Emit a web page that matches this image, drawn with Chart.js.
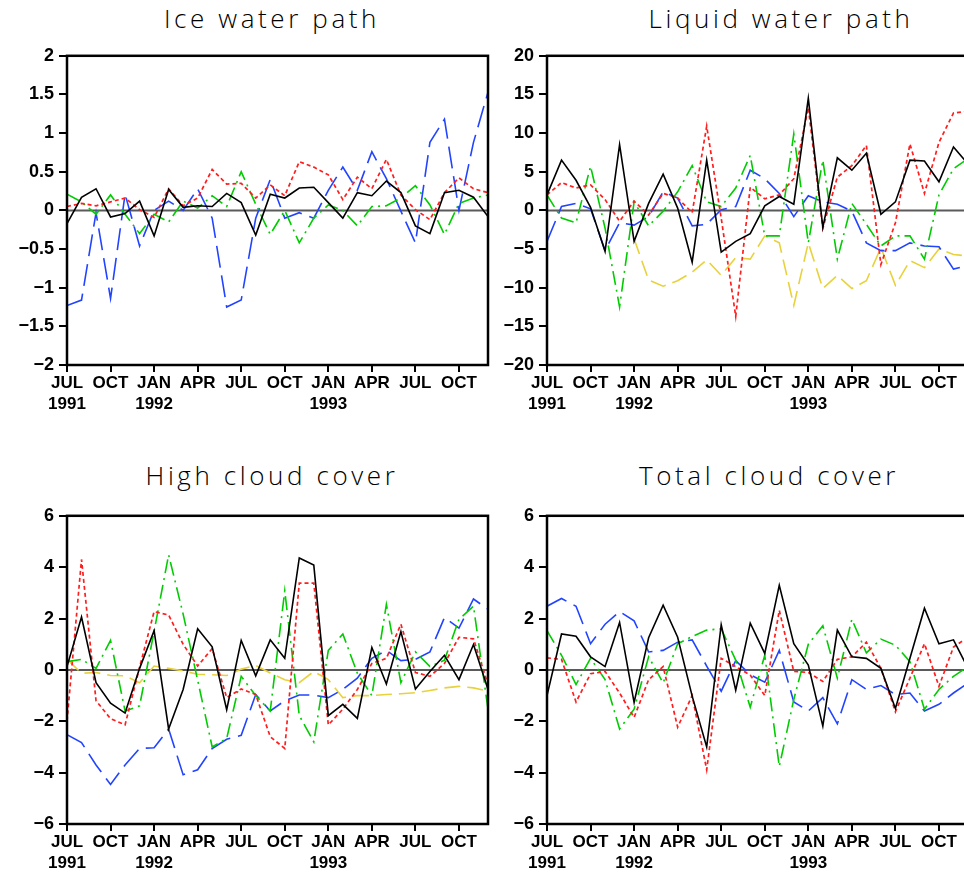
<!DOCTYPE html>
<html>
<head>
<meta charset="utf-8">
<script src="https://cdn.jsdelivr.net/npm/chart.js@4/dist/chart.umd.min.js"></script>
<style>
  html, body { margin: 0; padding: 0; background: #fff; overflow: hidden; width: 964px; height: 875px; }
  .panel { position: absolute; width: 500px; height: 380px; }
  .title { position: absolute; width: 400px; text-align: center; font-family: 'Open Sans', 'DejaVu Sans', sans-serif; font-weight: 300; font-size: 26px; letter-spacing: 3.6px; color: #000; line-height: 30px; white-space: nowrap; }
</style>
</head>
<body>
<div class="title" style="left:72px; top:3px;">Ice water path</div>
<div class="title" style="left:581px; top:3px;">Liquid water path</div>
<div class="title" style="left:72px; top:460px;">High cloud cover</div>
<div class="title" style="left:569px; top:460px;">Total cloud cover</div>

<div class="panel" style="left:0px; top:40px;"><canvas id="c1" width="500" height="380"></canvas></div>
<div class="panel" style="left:480px; top:40px;"><canvas id="c2" width="500" height="380"></canvas></div>
<div class="panel" style="left:0px; top:500px;"><canvas id="c3" width="500" height="380"></canvas></div>
<div class="panel" style="left:480px; top:500px;"><canvas id="c4" width="500" height="380"></canvas></div>

<script>
// ---- categories (months, Jul 1991 .. Dec 1993) ----
const months = ['Jul 1991','Aug 1991','Sep 1991','Oct 1991','Nov 1991','Dec 1991',
  'Jan 1992','Feb 1992','Mar 1992','Apr 1992','May 1992','Jun 1992','Jul 1992','Aug 1992','Sep 1992','Oct 1992','Nov 1992','Dec 1992',
  'Jan 1993','Feb 1993','Mar 1993','Apr 1993','May 1993','Jun 1993','Jul 1993','Aug 1993','Sep 1993','Oct 1993','Nov 1993','Dec 1993'];
const xTickLabels = [['JUL','1991'],'OCT',['JAN','1992'],'APR','JUL','OCT',['JAN','1993'],'APR','JUL','OCT'];
const xTickStep = 3;

// ---- Ice water path ----
const iceBlack  = [-0.17,0.17,0.28,-0.085,-0.04,0.12,-0.33,0.27,0.04,0.06,0.05,0.22,0.1,-0.32,0.21,0.16,0.29,0.30,0.1,-0.1,0.23,0.19,0.38,0.23,-0.2,-0.3,0.23,0.26,0.17,-0.08];
const iceRed    = [0.05,0.09,0.06,0.11,0.16,0.01,-0.09,0.28,0.06,0.16,0.53,0.34,0.35,0.16,0.33,0.19,0.63,0.56,0.46,0.14,0.43,0.28,0.66,0.2,0.01,-0.12,0.23,0.42,0.28,0.23];
const iceGreen  = [0.21,0.11,-0.05,0.2,-0.05,-0.3,-0.05,-0.15,0.12,0.03,0.19,0.05,0.5,0.08,-0.31,0.0,-0.42,-0.1,0.07,0.0,-0.2,0.05,0.06,0.16,0.32,0.07,-0.31,0.09,0.16,0.2];
const iceBlue   = [-1.23,-1.16,-0.03,-1.14,0.21,-0.46,0.0,0.12,0.0,0.28,-0.1,-1.25,-1.16,-0.1,0.4,-0.1,-0.03,-0.1,0.26,0.56,0.26,0.76,0.41,-0.01,-0.42,0.88,1.18,0.0,0.88,1.53];
const iceTicks  = [-2,-1.5,-1,-0.5,0,0.5,1,1.5,2];

// ---- Liquid water path ----
const lwpBlack  = [2.0,6.5,3.9,0.4,-5.3,8.5,-4.0,0.9,4.7,0.3,-6.7,6.5,-5.4,-4.0,-3.0,0.6,1.8,0.8,14.5,-2.2,6.8,5.2,7.4,-0.5,1.1,6.5,6.4,3.7,8.2,6.0];
const lwpRed    = [2.0,3.6,2.9,3.3,1.4,-1.4,1.2,-0.6,2.2,1.6,-0.3,10.9,-1.0,-13.7,3.0,1.5,2.0,4.1,13.3,-2.3,4.3,5.8,8.4,-7.0,-1.6,8.6,2.2,8.8,12.6,12.8];
const lwpGreen  = [2.0,-1.0,-1.6,5.7,-2.3,-12.5,1.1,-2.0,-0.1,2.4,5.8,1.1,0.5,2.9,7.1,-3.3,-3.3,9.9,-4.2,6.5,-6.3,0.9,-1.8,-4.6,-3.3,-3.3,-6.3,2.0,5.4,6.7];
const lwpBlue   = [-4.0,0.5,0.9,0.2,-5.2,-1.6,-1.9,-0.8,2.4,1.6,-2.0,-1.8,0.1,0.5,5.2,4.1,2.2,-0.8,1.9,1.1,0.8,-0.1,-4.2,-5.2,-5.2,-4.2,-4.6,-4.7,-7.6,-7.1];
const lwpYellow = [null,null,null,null,null,null,-3.7,-9.0,-9.8,-9.1,-8.0,-6.4,-8.4,-6.1,-6.3,-3.3,-4.2,-12.3,-4.2,-10.1,-8.4,-10.1,-9.1,-4.8,-9.7,-6.5,-7.4,-5.0,-5.7,-5.9];
const lwpTicks  = [-20,-15,-10,-5,0,5,10,15,20];

// ---- High cloud cover ----
const hccBlack  = [0.13,2.06,-0.5,-1.3,-1.68,0.06,1.53,-2.3,-0.76,1.6,0.9,-1.55,1.15,-0.23,1.17,0.45,4.36,4.08,-1.78,-1.34,-1.89,0.87,-0.55,1.49,-0.74,-0.06,0.57,-0.38,0.99,-0.76];
const hccRed    = [-2.0,4.3,-1.2,-1.9,-2.14,0.1,2.27,2.14,1.0,0.15,0.83,-1.08,-0.74,-0.96,-2.6,-3.06,3.38,3.38,-2.14,-1.53,-0.76,0.25,0.45,1.78,-0.1,-0.25,0.25,1.27,1.21,-0.57];
const hccGreen  = [0.32,0.41,0.06,1.15,-1.6,-1.4,1.5,4.48,2.17,-0.4,-3.0,-2.67,-0.25,-1.0,-1.6,3.08,-1.78,-2.8,0.76,1.4,-0.13,-1.0,2.55,-0.5,0.7,0.13,0.38,1.97,2.48,-1.53];
const hccBlue   = [-2.52,-2.83,-3.7,-4.46,-3.7,-3.06,-3.03,-2.3,-4.08,-3.89,-3.06,-2.7,-2.55,-0.96,-1.6,-1.2,-0.98,-0.98,-1.08,-0.76,-0.32,0.45,0.76,0.36,0.41,0.7,2.04,1.63,2.76,2.36];
const hccYellow = [0.41,-0.13,-0.1,-0.22,-0.23,-0.5,0.15,0.06,-0.04,-0.17,-0.19,-0.22,0.03,0.17,-0.12,-0.38,-0.5,-0.06,-0.38,-1.08,-1.0,-1.0,-0.96,-0.93,-0.89,-0.8,-0.7,-0.64,-0.7,-0.83];
const cloudTicks = [-6,-4,-2,0,2,4,6];

// ---- Total cloud cover ----
const tccBlack  = [-1.0,1.4,1.31,0.51,0.13,1.85,-1.27,1.25,2.52,1.27,-1.02,-3.0,1.76,-0.79,1.82,0.64,3.29,1.02,0.19,-2.19,1.55,0.51,0.45,0.06,-1.5,0.45,2.4,1.02,1.17,0.06];
const tccRed    = [0.47,0.41,-1.25,-0.15,-0.06,-0.9,-1.85,-0.38,0.13,-2.23,-1.0,-3.89,0.45,0.13,-0.2,-1.0,2.32,-0.06,-0.1,-0.45,0.41,0.51,1.08,0.06,-1.63,-0.32,1.02,-0.64,0.89,1.27];
const tccGreen  = [1.53,0.57,-0.57,0.45,-0.38,-2.3,-1.53,0.51,-0.51,1.02,1.3,1.55,1.6,0.38,-1.45,0.57,-3.76,-1.15,1.0,1.72,-0.32,1.97,0.66,1.2,0.96,0.32,-1.53,-0.76,-0.25,0.13];
const tccBlue   = [2.48,2.78,2.48,1.02,1.78,2.27,1.91,0.7,0.76,1.08,1.17,0.15,-0.83,0.36,-0.19,-0.48,0.76,-1.25,-1.6,-1.08,-2.1,-0.38,-0.76,-0.61,-0.96,-0.9,-1.6,-1.34,-0.9,-0.51];

// ---- styles ----
const STY = {
  black:  { color: '#000000', dash: [], width: 1.6 },
  red:    { color: '#ff1e1e', dash: [4, 3], width: 1.7 },
  green:  { color: '#00cc00', dash: [14, 5, 2, 5], width: 1.6 },
  blue:   { color: '#2244ff', dash: [22, 8], width: 1.6 },
  yellow: { color: '#e8d23c', dash: [16, 7], width: 1.6 }
};

const tickFont = { family: "'Liberation Sans', Arial, sans-serif", size: 18, weight: 'bold' };
const xFont = { family: "'Liberation Sans', Arial, sans-serif", size: 17, weight: 'bold', lineHeight: 1.24 };

const framePlugin = {
  id: 'frame',
  beforeDatasetsDraw(chart) {
    const { ctx, chartArea: a } = chart;
    const y0 = chart.scales.y.getPixelForValue(0);
    ctx.save();
    ctx.strokeStyle = '#5a5a5a';
    ctx.lineWidth = 2;
    ctx.beginPath(); ctx.moveTo(a.left, y0); ctx.lineTo(a.right, y0); ctx.stroke();
    ctx.restore();
  },
  afterDatasetsDraw(chart) {
    const { ctx, chartArea: a } = chart;
    ctx.save();
    ctx.strokeStyle = '#000';
    ctx.lineWidth = 2.5;
    ctx.strokeRect(a.left, a.top, a.right - a.left, a.bottom - a.top);
    ctx.restore();
  }
};

function ds(values, key) {
  const s = STY[key];
  return {
    data: values.map((v, i) => ({ x: i, y: v })),
    borderColor: s.color, borderDash: s.dash, borderWidth: s.width,
    pointRadius: 0, tension: 0, fill: false, spanGaps: false
  };
}

function fmt(v) {
  const s = String(v);
  return s.replace('-', '\u2212');
}

function makeChart(id, series, yTicks, padTop, xAxisH) {
  const ymin = yTicks[0], ymax = yTicks[yTicks.length - 1];
  return new Chart(document.getElementById(id), {
    type: 'line',
    data: { datasets: series },
    plugins: [framePlugin],
    options: {
      responsive: false, animation: false, devicePixelRatio: 1,
      layout: { padding: { top: padTop, right: 12, left: 0, bottom: 0 } },
      plugins: { legend: { display: false }, tooltip: { enabled: false }, title: { display: false } },
      scales: {
        x: {
          type: 'linear', min: 0, max: months.length - 1,
          afterBuildTicks(scale) { scale.ticks = xTickLabels.map((_, k) => ({ value: k * xTickStep })); },
          afterFit(scale) { scale.height = xAxisH; },
          border: { display: false },
          grid: { drawOnChartArea: false, drawTicks: true, tickLength: 7, color: '#000', lineWidth: 2 },
          ticks: { autoSkip: false, maxRotation: 0, padding: 1, color: '#000', font: xFont,
                   callback: (v, i) => xTickLabels[i] }
        },
        y: {
          type: 'linear', min: ymin, max: ymax,
          afterBuildTicks(scale) { scale.ticks = yTicks.map(v => ({ value: v })); },
          afterFit(scale) { scale.width = 67; },
          border: { display: false },
          grid: { drawOnChartArea: false, drawTicks: true, tickLength: 8, color: '#000', lineWidth: 2 },
          ticks: { padding: 5, color: '#000', font: tickFont, callback: v => fmt(v) }
        }
      }
    }
  });
}

makeChart('c1', [ds(iceBlack,'black'), ds(iceRed,'red'), ds(iceGreen,'green'), ds(iceBlue,'blue')], iceTicks, 12, 55);
makeChart('c2', [ds(lwpBlack,'black'), ds(lwpRed,'red'), ds(lwpGreen,'green'), ds(lwpBlue,'blue'), ds(lwpYellow,'yellow')], lwpTicks, 12, 55);
makeChart('c3', [ds(hccBlack,'black'), ds(hccRed,'red'), ds(hccGreen,'green'), ds(hccBlue,'blue'), ds(hccYellow,'yellow')], cloudTicks, 10, 56);
makeChart('c4', [ds(tccBlack,'black'), ds(tccRed,'red'), ds(tccGreen,'green'), ds(tccBlue,'blue')], cloudTicks, 10, 56);
</script>
</body>
</html>
